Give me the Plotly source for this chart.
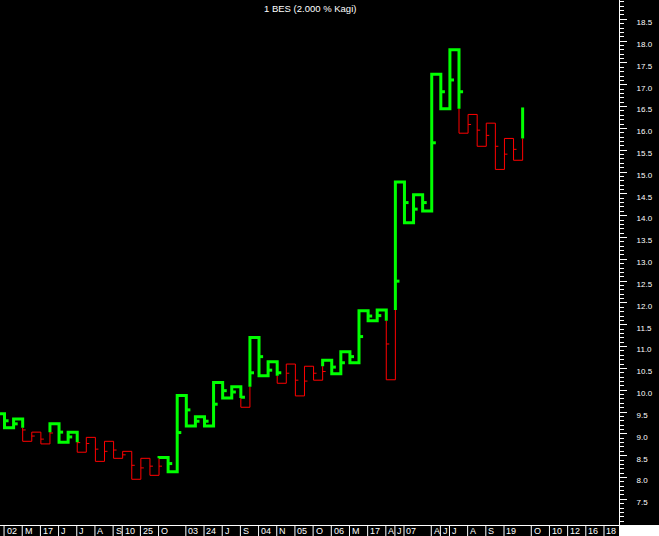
import plotly.graph_objects as go

title_text = "1 BES (2.000 % Kagi)"

# Kagi reversal levels: first value is the level before column 0
kagi_levels = [9.46, 9.14, 9.34, 8.83, 9.04, 8.77, 9.23, 8.81, 9.04, 8.58,
               8.92, 8.37, 8.83, 8.44, 8.60, 7.96, 8.44, 8.05, 8.46, 8.13,
               9.88, 9.18, 9.39, 9.18, 10.18, 9.82, 10.08, 9.61, 11.21, 10.33,
               10.65, 10.16, 10.60, 9.87, 10.55, 10.23, 10.69, 10.38, 10.88, 10.63,
               11.82, 11.59, 11.84, 10.24, 14.77, 13.84, 14.48, 14.11, 17.24, 16.45,
               17.80, 15.89, 16.32, 15.59, 16.12, 15.06, 15.77, 15.27, 16.48]

# small marks on each column (column 0..56)
mark_values = [9.30, 9.23, 9.09, 8.95, 8.88, 9.02, 9.04, 8.93, 8.80, 8.78,
               8.65, 8.60, 8.63, 8.52, 8.28, 8.22, 8.26, 8.26, 8.32, 9.03,
               9.55, 9.29, 9.29, 9.68, 9.99, 9.96, 9.84, 10.40, 10.77, 10.46,
               10.40, 10.39, 10.23, 10.21, 10.39, 10.43, 10.53, 10.63, 10.77, 11.23,
               11.70, 11.71, 11.06, 12.50, 14.30, 14.15, 14.30, 15.67, 16.84, 17.11,
               16.84, 16.09, 15.96, 15.84, 15.59, 15.41, 15.52]

x_label_text = ["02", "M", "17", "J", "J", "A", "S", "10", "25", "O", "03", "24",
                "J", "S", "04", "N", "05", "O", "06", "M", "17", "A", "J", "07",
                "A", "J", "J", "A", "S", "19", "O", "10", "12", "16", "18"]
x_label_col = [0, 2, 4, 6, 8, 10, 12, 13, 15, 17, 20, 22,
               24, 26, 28, 30, 32, 34, 36, 38, 40, 42, 43, 44,
               47, 48, 49, 51, 53, 55, 58, 60, 62, 64, 66]

y_tick_vals = [7.5 + 0.5 * i for i in range(23)]

GREEN = "#00ff00"
RED = "#ff0000"

# ---- geometry ----
W, H = 659, 536
PLOT_W, PLOT_H = 619, 525
COL0_PX, COL_PX = 4.5, 9.09
x_range = [-COL0_PX / COL_PX, (PLOT_W - COL0_PX) / COL_PX]
PX_PER_UNIT = 43.64
TOP_TICK_PX = 19.3
y_top = 18.5 + TOP_TICK_PX / PX_PER_UNIT
y_bot = 18.5 - (PLOT_H - TOP_TICK_PX) / PX_PER_UNIT

# ---- Kagi construction ----
segments = []
state = GREEN
n = len(kagi_levels) - 1
segments.append((-1, kagi_levels[0], 0, kagi_levels[0], state))
col_parts = []
for k in range(n):
    a, b = kagi_levels[k], kagi_levels[k + 1]
    thr = kagi_levels[k - 1] if k >= 1 else None
    if b > a and state == RED and thr is not None and b > thr:
        parts = [(a, thr, RED), (thr, b, GREEN)]
        state = GREEN
    elif b < a and state == GREEN and thr is not None and b < thr:
        parts = [(a, thr, GREEN), (thr, b, RED)]
        state = RED
    else:
        parts = [(a, b, state)]
    col_parts.append(parts)
    for (y0, y1, c) in parts:
        segments.append((k, y0, k, y1, c))
    if k < n - 1:
        segments.append((k, b, k + 1, b, state))

runs = []
for (x0, y0, x1, y1, c) in segments:
    if runs and runs[-1][0] == c:
        runs[-1][1].append(x1)
        runs[-1][2].append(y1)
    else:
        runs.append([c, [x0, x1], [y0, y1]])

traces = {GREEN: ([], []), RED: ([], [])}
for c, xs, ys in runs:
    traces[c][0].extend(xs + [None])
    traces[c][1].extend(ys + [None])

marks = {GREEN: ([], []), RED: ([], [])}
for k, v in enumerate(mark_values):
    col = RED
    for (y0, y1, c) in col_parts[k]:
        if min(y0, y1) <= v <= max(y0, y1):
            col = c
            break
    ln = 0.45 if col == GREEN else 0.33
    marks[col][0].extend([k, k + ln, None])
    marks[col][1].extend([v, v, None])

fig = go.Figure()
fig.add_trace(go.Scatter(x=traces[RED][0], y=traces[RED][1], mode="lines",
                         line=dict(color=RED, width=1), hoverinfo="skip"))
fig.add_trace(go.Scatter(x=marks[RED][0], y=marks[RED][1], mode="lines",
                         line=dict(color=RED, width=1), hoverinfo="skip"))
fig.add_trace(go.Scatter(x=traces[GREEN][0], y=traces[GREEN][1], mode="lines",
                         line=dict(color=GREEN, width=3), hoverinfo="skip"))
fig.add_trace(go.Scatter(x=marks[GREEN][0], y=marks[GREEN][1], mode="lines",
                         line=dict(color=GREEN, width=3), hoverinfo="skip"))

shapes = []
annotations = []
bar_h = (H - PLOT_H) / PLOT_H
for txt, c in zip(x_label_text, x_label_col):
    shapes.append(dict(type="line", xref="x", yref="paper", x0=c - 0.05, x1=c - 0.05,
                       y0=0, y1=-bar_h - 0.01, line=dict(color="white", width=1)))
    annotations.append(dict(x=c, y=0, xref="x", yref="paper", text=txt, showarrow=False,
                            xanchor="left", yanchor="top", xshift=1, yshift=0,
                            borderpad=0,
                            font=dict(family="Liberation Sans", size=9, color="white")))
shapes.append(dict(type="rect", xref="paper", yref="paper", x0=1, x1=1.1,
                   y0=-bar_h - 0.01, y1=0, fillcolor="white", line=dict(width=0), layer="above"))
annotations.append(dict(x=0.5, y=1, xref="paper", yref="paper", text=title_text, showarrow=False,
                        xanchor="center", yanchor="top", yshift=-1,
                        font=dict(family="Liberation Sans", size=9.5, color="white")))

fig.update_layout(
    width=W, height=H,
    margin=dict(l=0, r=W - PLOT_W, t=0, b=H - PLOT_H, pad=0),
    paper_bgcolor="black", plot_bgcolor="black",
    showlegend=False,
    xaxis=dict(range=x_range, showline=True, linecolor="white", linewidth=1,
               showgrid=False, zeroline=False, showticklabels=False, ticks=""),
    yaxis=dict(side="right", range=[y_bot, y_top], showline=True, linecolor="white",
               linewidth=1, ticks="outside", ticklen=7, tickwidth=1, tickcolor="white",
               tickmode="array", tickvals=y_tick_vals, tickformat=".1f",
               showgrid=False, zeroline=False,
               tickfont=dict(family="Liberation Sans", size=8, color="white"),
               ticklabelshift=3, ticklabelstandoff=8,
               minor=dict(ticks="outside", ticklen=4, dtick=0.1, tick0=7.5,
                          tickcolor="white", showgrid=False)),
    shapes=shapes, annotations=annotations,
)

fig.write_html("out.html", config={"displayModeBar": False},
               post_script="document.body.style.margin='0px';document.body.style.overflow='hidden';")
